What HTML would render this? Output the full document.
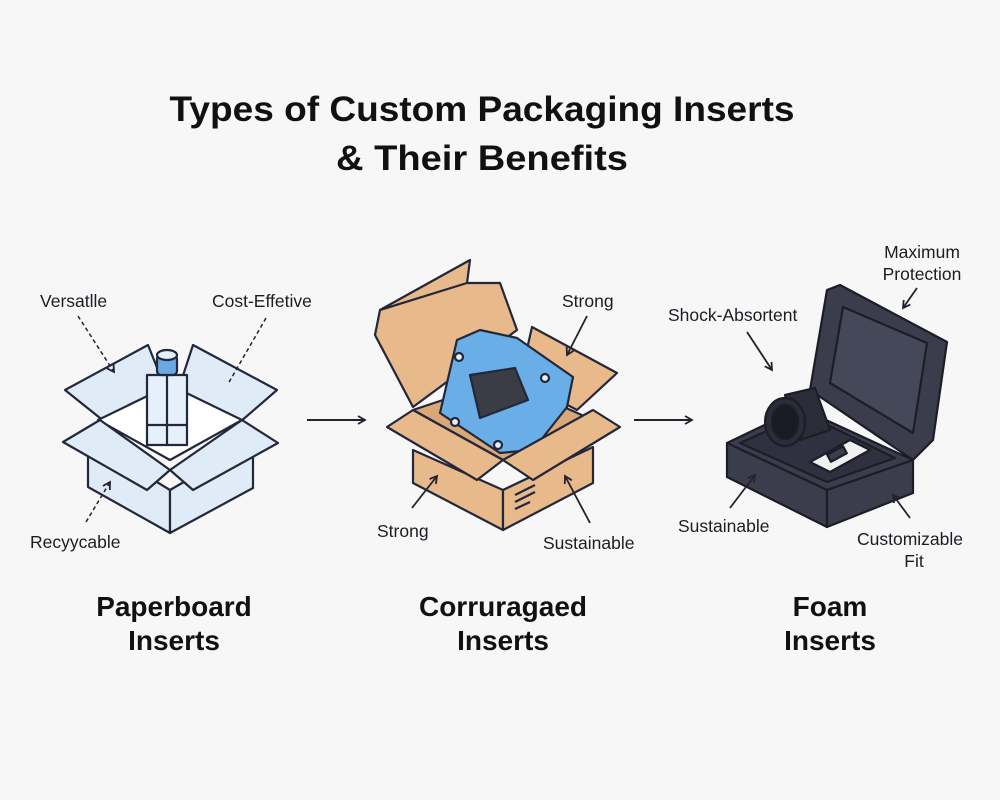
<!DOCTYPE html>
<html><head><meta charset="utf-8"><style>
body{margin:0;background:#f7f7f7;}
svg{display:block}
text{font-family:"Liberation Sans",Arial,sans-serif;fill:#1c1c24}
</style></head><body>
<svg width="1000" height="800" viewBox="0 0 1000 800" xmlns="http://www.w3.org/2000/svg">
<defs>
<marker id="ah" markerWidth="10" markerHeight="10" refX="8" refY="5" orient="auto" markerUnits="userSpaceOnUse"><path d="M1,1 L8,5 L1,9" fill="none" stroke="#23232e" stroke-width="1.8"/></marker>
</defs>
<rect width="1000" height="800" fill="#f7f7f7"/>
<text x="482" y="121" font-size="35" font-weight="bold" text-anchor="middle" style="fill:#111" textLength="625" lengthAdjust="spacingAndGlyphs">Types of Custom Packaging Inserts</text>
<text x="482" y="170" font-size="35" font-weight="bold" text-anchor="middle" style="fill:#111" textLength="292" lengthAdjust="spacingAndGlyphs">&amp; Their Benefits</text>

<!-- Paperboard box -->
<g stroke="#23273a" stroke-width="2.2" stroke-linejoin="round" fill="#dfecf8">
<polygon points="65,390 148,345 170,400 105,422"/>
<polygon points="193,345 277,390 240,422 175,400"/>
<polygon points="98,420 170,385 242,420 170,460" fill="#fff"/>
<polygon points="88,440 170,490 170,533 88,487"/>
<polygon points="170,490 253,442 253,488 170,533"/>
<polygon points="63,442 100,420 170,470 147,490"/>
<polygon points="278,443 242,420 170,470 193,490"/>
<rect x="147" y="375" width="40" height="70" fill="#e6f0fa"/>
<line x1="167" y1="375" x2="167" y2="445"/>
<line x1="147" y1="425" x2="187" y2="425"/>
<rect x="157" y="355" width="20" height="20" rx="4" fill="#6aa7e3"/>
<ellipse cx="167" cy="355" rx="10" ry="5" fill="#e6f0fa"/>
</g>
<g stroke="#23232e" stroke-width="1.5" stroke-dasharray="4,3" fill="none">
<line x1="78" y1="316" x2="114" y2="372" marker-end="url(#ah)"/>
<line x1="266" y1="318" x2="228" y2="384"/>
<line x1="86" y1="522" x2="110" y2="482" marker-end="url(#ah)"/>
</g>
<text x="40" y="307" font-size="17.5">Versatlle</text>
<text x="212" y="307" font-size="17.5">Cost-Effetive</text>
<text x="30" y="548" font-size="17.5">Recyycable</text>

<!-- arrows -->
<line x1="307" y1="420" x2="365" y2="420" stroke="#23232e" stroke-width="2" marker-end="url(#ah)"/>
<line x1="634" y1="420" x2="692" y2="420" stroke="#23232e" stroke-width="2" marker-end="url(#ah)"/>

<!-- Corrugated box -->
<g stroke="#23273a" stroke-width="2.2" stroke-linejoin="round" fill="#e8b98a">
<polygon points="375,335 380,310 470,260 467,283 500,283 517,330 413,407"/>
<line x1="380" y1="310" x2="467" y2="283"/>
<polygon points="532,327 617,373 577,410 520,380"/>
<polygon points="413,410 503,380 593,420 503,460" fill="#d9a877"/>
<polygon points="440,413 457,340 480,330 517,338 573,377 567,407 533,450 500,453" fill="#6aaee8"/>
<polygon points="470,375 515,368 528,400 480,418" fill="#3a3d45"/>
<circle cx="459" cy="357" r="4" fill="#e6f0fa"/><circle cx="545" cy="378" r="4" fill="#e6f0fa"/>
<circle cx="455" cy="422" r="4" fill="#e6f0fa"/><circle cx="498" cy="445" r="4" fill="#e6f0fa"/>
<polygon points="413,450 503,490 503,530 413,483"/>
<polygon points="503,490 593,447 593,483 503,530"/>
<polygon points="387,427 413,410 503,460 477,480"/>
<polygon points="620,427 593,410 503,460 533,480"/>
<line x1="515" y1="495" x2="535" y2="485"/><line x1="515" y1="502" x2="535" y2="492"/><line x1="515" y1="509" x2="530" y2="502"/>
</g>
<g stroke="#23232e" stroke-width="1.8" fill="none">
<line x1="587" y1="316" x2="567" y2="355" marker-end="url(#ah)"/>
<line x1="412" y1="508" x2="437" y2="476" marker-end="url(#ah)"/>
<line x1="590" y1="523" x2="565" y2="476" marker-end="url(#ah)"/>
</g>
<text x="562" y="307" font-size="17.5">Strong</text>
<text x="377" y="537" font-size="17.5">Strong</text>
<text x="543" y="549" font-size="17.5">Sustainable</text>

<!-- Foam box -->
<g stroke="#1c1d26" stroke-width="2.2" stroke-linejoin="round" fill="#3b3d4c">
<polygon points="827,290 840,285 947,342 933,440 913,460 810,390"/>
<polygon points="843,307 927,343 913,433 830,383" fill="#454858"/>
<polygon points="727,443 800,408 913,460 827,490"/>
<polygon points="740,443 805,414 895,458 827,482" fill="#2f3140"/>
<polygon points="727,443 827,490 827,527 727,477"/>
<polygon points="827,490 913,460 913,493 827,527"/>
<polygon points="785,395 815,388 830,430 800,440" fill="#2a2c38"/>
<ellipse cx="785" cy="422" rx="20" ry="24" fill="#2a2c38"/>
<ellipse cx="785" cy="422" rx="13" ry="17" fill="#1a1b22"/>
<polygon points="810,462 850,440 870,450 830,472" fill="#f0f0f0"/>
<rect x="828" y="450" width="18" height="8" fill="#3b3d4c" transform="rotate(-28 837 454)"/>
</g>
<g stroke="#23232e" stroke-width="1.8" fill="none">
<line x1="917" y1="288" x2="903" y2="308" marker-end="url(#ah)"/>
<line x1="747" y1="332" x2="772" y2="370" marker-end="url(#ah)"/>
<line x1="730" y1="508" x2="755" y2="475" marker-end="url(#ah)"/>
<line x1="910" y1="518" x2="893" y2="495" marker-end="url(#ah)"/>
</g>
<text x="922" y="258" font-size="17.5" text-anchor="middle">Maximum</text>
<text x="922" y="280" font-size="17.5" text-anchor="middle">Protection</text>
<text x="668" y="321" font-size="17.5">Shock-Absortent</text>
<text x="678" y="532" font-size="17.5">Sustainable</text>
<text x="910" y="545" font-size="17.5" text-anchor="middle">Customizable</text>
<text x="914" y="567" font-size="17.5" text-anchor="middle">Fit</text>

<text x="174" y="616" font-size="28" font-weight="bold" text-anchor="middle" style="fill:#111">Paperboard</text>
<text x="174" y="650" font-size="28" font-weight="bold" text-anchor="middle" style="fill:#111">Inserts</text>
<text x="503" y="616" font-size="28" font-weight="bold" text-anchor="middle" style="fill:#111">Corruragaed</text>
<text x="503" y="650" font-size="28" font-weight="bold" text-anchor="middle" style="fill:#111">Inserts</text>
<text x="830" y="616" font-size="28" font-weight="bold" text-anchor="middle" style="fill:#111">Foam</text>
<text x="830" y="650" font-size="28" font-weight="bold" text-anchor="middle" style="fill:#111">Inserts</text>
</svg>
</body></html>
